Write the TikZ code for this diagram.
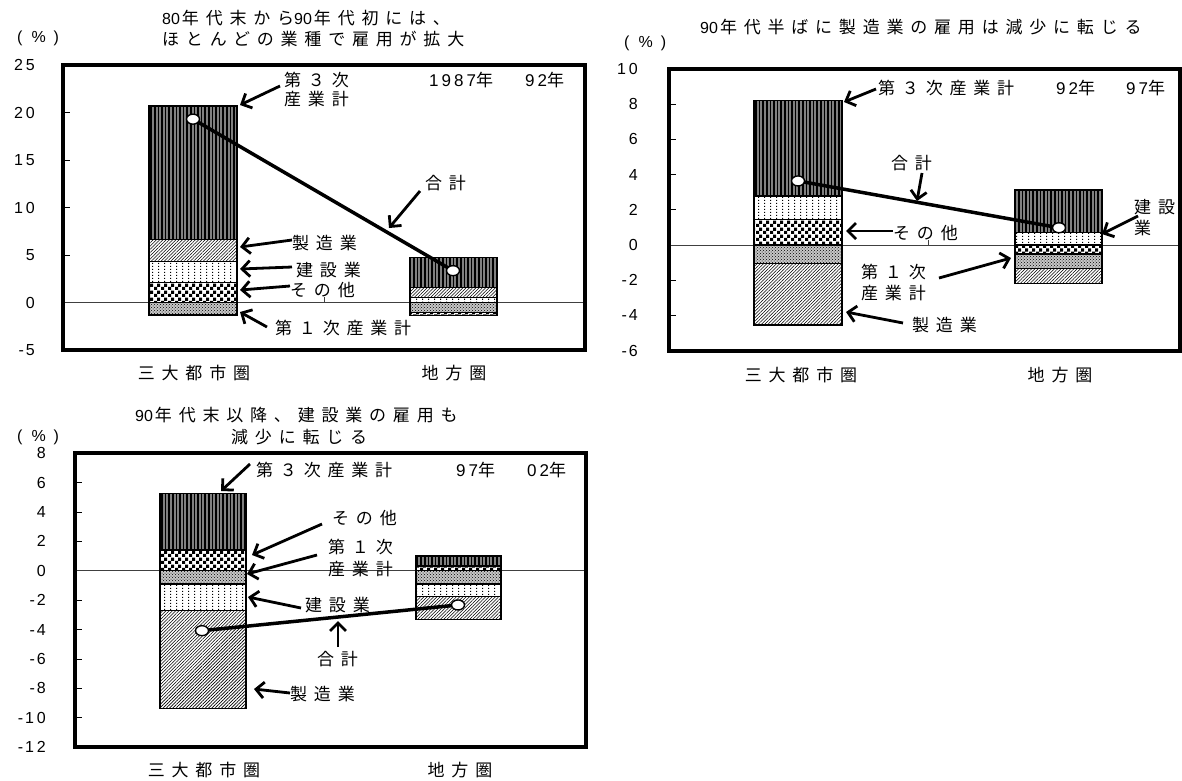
\documentclass[tikz,border=0pt]{standalone}
\usepackage{fontspec}
\usetikzlibrary{arrows.meta,patterns,patterns.meta,shapes.geometric}
\newfontfamily\jp{Noto Sans CJK JP}[LetterSpace=40]
\newfontfamily\ax{Liberation Sans}[LetterSpace=18]
\newfontfamily\tdg{Liberation Sans}
\newcommand\td[1]{{\tdg\fontsize{16pt}{16pt}\selectfont #1}\hspace{2pt}}

\pgfdeclarepatternformonly{vdotlines}{\pgfqpoint{0pt}{0pt}}{\pgfqpoint{6pt}{3pt}}{\pgfqpoint{6pt}{3pt}}{%
  \pgfpathrectangle{\pgfqpoint{2.5pt}{0pt}}{\pgfqpoint{1pt}{1.5pt}}\pgfusepath{fill}}
\pgfdeclarepatternformonly{chk}{\pgfqpoint{0pt}{0pt}}{\pgfqpoint{7pt}{7pt}}{\pgfqpoint{7pt}{7pt}}{%
  \pgfpathrectangle{\pgfqpoint{0pt}{0pt}}{\pgfqpoint{3.5pt}{3.5pt}}%
  \pgfpathrectangle{\pgfqpoint{3.5pt}{3.5pt}}{\pgfqpoint{3.5pt}{3.5pt}}\pgfusepath{fill}}

\tikzset{
  lab/.style={font=\jp\fontsize{17pt}{18pt}\selectfont, inner sep=0pt, anchor=west},
  ylab/.style={font=\ax\fontsize{16pt}{17pt}\selectfont, inner sep=0pt, anchor=east},
  pct/.style={font=\ax\fontsize{16pt}{17pt}\selectfont, inner sep=0pt, anchor=west},
  frame/.style={line width=4pt},
  zline/.style={line width=0.8pt, black!75},
  ytick/.style={line width=0.8pt},
  ptr/.style={line width=2.8pt, -{Straight Barb[length=8pt,width=16pt]}},
  total/.style={line width=3.5pt},
  tdot/.style={ellipse, draw, fill=white, line width=1.4pt, minimum width=13pt, minimum height=10pt, inner sep=0pt},
  s3/.style={fill=black!50, postaction={pattern={Lines[angle=90,distance=3.6pt,line width=1.7pt]}, pattern color=black}},
  smfg/.style={fill=white, postaction={pattern={Lines[angle=45,distance=2.3pt,line width=0.6pt]}, pattern color=black}},
  scon/.style={fill=white, postaction={pattern=vdotlines, pattern color=black}},
  soth/.style={fill=white, postaction={pattern=chk, pattern color=black}},
  sprim/.style={fill=black!22, postaction={pattern=crosshatch dots, pattern color=black}},
}
\newcommand\bseg[5]{\path[#5] (#1,#3) rectangle (#2,#4); \draw[line width=1.3pt] (#1,#3) rectangle (#2,#4);}

\begin{document}
\begin{tikzpicture}[x=1pt,y=-1pt]
\useasboundingbox (0,0) rectangle (1182,780);
\fill[white] (0,0) rectangle (1182,780);

% ================= Chart 1 =================
\begin{scope}[shift={(0,302.5)}, y=9.5pt]
  \draw[zline] (63,0) -- (585,0);
  \draw[zline] (324,0) -- (324,0.55);
  \foreach \v in {20,15,10,5} \draw[ytick] (63,\v) -- (70,\v);
  % bar 1
  \bseg{149}{237}{-1.3}{0}{sprim}
  \bseg{149}{237}{0}{2.08}{soth}
  \bseg{149}{237}{2.08}{4.35}{scon}
  \bseg{149}{237}{4.35}{6.65}{smfg}
  \bseg{149}{237}{6.65}{20.7}{s3}
  % bar 2
  \bseg{410}{497}{-1.35}{-1.03}{soth}
  \bseg{410}{497}{-1.03}{0}{sprim}
  \bseg{410}{497}{0}{0.5}{scon}
  \bseg{410}{497}{0.5}{1.55}{smfg}
  \bseg{410}{497}{1.55}{4.75}{s3}
  \coordinate (p1a) at (193,19.3);
  \coordinate (p1b) at (453,3.35);
  \draw[total] (p1a) -- (p1b);
  \node[tdot] (c1a) at (p1a) {};
  \node[tdot] (c1b) at (p1b) {};
  \draw[frame] (63,25) rectangle (585,-5);
  \foreach \v/\t in {25/25,20/20,15/15,10/10,5/5,0/0,-5/{-\hspace{2pt}5}} \node[ylab] (ya\v) at (35,\v) {\t};
\end{scope}

\node[lab] (t1a) at (162,18) {\td{80}年代末から\td{90}年代初には、};
\node[lab] (t1b) at (162,39) {ほとんどの業種で雇用が拡大};
\node[pct] (pc1) at (17,38) {(\hspace{9pt}\%\hspace{8pt})};
\node[lab] (l1t3a) at (284,80) {第３次};
\node[lab] (l1t3b) at (284,99) {産業計};
\node[lab] (l1yr) at (429,80) {{\ax 1987}年};
\node[lab] (l1yr2) at (525,80) {{\ax 92}年};
\node[lab] (l1tot) at (425,183) {合計};
\node[lab] (l1mfg) at (292,243) {製造業};
\node[lab] (l1con) at (296,270) {建設業};
\node[lab] (l1oth) at (290,290) {その他};
\node[lab] (l1pri) at (275,328) {第１次産業計};
\node[lab,anchor=center] (l1x1) at (194,373) {三大都市圏};
\node[lab,anchor=center] (l1x2) at (454,373) {地方圏};

\coordinate (a1s1) at (280,86);  \coordinate (a1e1) at (240,105);
\coordinate (a1s2) at (420,191); \coordinate (a1e2) at (389,228);
\coordinate (a1s3) at (292,240); \coordinate (a1e3) at (240,247);
\coordinate (a1s4) at (292,267); \coordinate (a1e4) at (240,269);
\coordinate (a1s5) at (290,286); \coordinate (a1e5) at (240,290);
\coordinate (a1s6) at (267,327); \coordinate (a1e6) at (240,312);
\foreach \i in {1,...,6} \draw[ptr] (a1s\i) -- (a1e\i);

% ================= Chart 2 =================
\begin{scope}[shift={(0,245)}, y=17.6pt]
  \draw[zline] (669,0) -- (1180,0);
  \draw[zline] (928,0) -- (928,0.3);
  \foreach \v in {8,6,4,2,-2,-4} \draw[ytick] (669,\v) -- (676,\v);
  % bar 1
  \bseg{754}{842}{-4.55}{-1.04}{smfg}
  \bseg{754}{842}{-1.04}{0}{sprim}
  \bseg{754}{842}{0}{1.46}{soth}
  \bseg{754}{842}{1.46}{2.78}{scon}
  \bseg{754}{842}{2.78}{8.2}{s3}
  % bar 2
  \bseg{1015}{1102}{-2.18}{-1.35}{smfg}
  \bseg{1015}{1102}{-1.35}{-0.51}{sprim}
  \bseg{1015}{1102}{-0.51}{0}{soth}
  \bseg{1015}{1102}{0}{0.72}{scon}
  \bseg{1015}{1102}{0.72}{3.12}{s3}
  \coordinate (p2a) at (798,3.64);
  \coordinate (p2b) at (1059,0.98);
  \draw[total] (p2a) -- (p2b);
  \node[tdot] (c2a) at (p2a) {};
  \node[tdot] (c2b) at (p2b) {};
  \draw[frame] (669,10) rectangle (1180,-6);
  \foreach \v/\t in {10/10,8/8,6/6,4/4,2/2,0/0,-2/{-\hspace{2pt}2},-4/{-\hspace{2pt}4},-6/{-\hspace{2pt}6}} \node[ylab] (yb\v) at (638,\v) {\t};
\end{scope}

\node[lab] (t2) at (700,27) {\td{90}年代半ばに製造業の雇用は減少に転じる};
\node[pct] (pc2) at (624,43) {(\hspace{9pt}\%\hspace{8pt})};
\node[lab] (l2t3) at (878,88) {第３次産業計};
\node[lab] (l2yr) at (1056,88) {{\ax 92}年};
\node[lab] (l2yr2) at (1126,88) {{\ax 97}年};
\node[lab] (l2tot) at (891,163) {合計};
\node[lab] (l2cona) at (1134,207) {建設};
\node[lab] (l2conb) at (1134,228) {業};
\node[lab] (l2oth) at (893,233) {その他};
\node[lab] (l2pria) at (861,272) {第１次};
\node[lab] (l2prib) at (861,293) {産業計};
\node[lab] (l2mfg) at (912,325) {製造業};
\node[lab,anchor=center] (l2x1) at (801,375) {三大都市圏};
\node[lab,anchor=center] (l2x2) at (1060,375) {地方圏};

\coordinate (a2s1) at (876,89);   \coordinate (a2e1) at (844,102);
\coordinate (a2s2) at (922,173);  \coordinate (a2e2) at (917,201);
\coordinate (a2s3) at (1138,216); \coordinate (a2e3) at (1102,234);
\coordinate (a2s4) at (893,231);  \coordinate (a2e4) at (846,231);
\coordinate (a2s5) at (939,278);  \coordinate (a2e5) at (1011,258);
\coordinate (a2s6) at (903,323);  \coordinate (a2e6) at (846,312);
\foreach \i in {1,...,6} \draw[ptr] (a2s\i) -- (a2e\i);

% ================= Chart 3 =================
\begin{scope}[shift={(0,570.7)}, y=14.7pt]
  \draw[zline] (75,0) -- (586,0);
  \foreach \v in {6,4,2,-2,-4,-6,-8,-10} \draw[ytick] (75,\v) -- (82,\v);
  % bar 1
  \bseg{160}{246}{-9.36}{-2.72}{smfg}
  \bseg{160}{246}{-2.72}{-0.9}{scon}
  \bseg{160}{246}{-0.9}{0}{sprim}
  \bseg{160}{246}{0}{1.41}{soth}
  \bseg{160}{246}{1.41}{5.27}{s3}
  % bar 2
  \bseg{416}{501}{-3.3}{-1.75}{smfg}
  \bseg{416}{501}{-1.75}{-0.9}{scon}
  \bseg{416}{501}{-0.9}{0}{sprim}
  \bseg{416}{501}{0}{0.33}{soth}
  \bseg{416}{501}{0.33}{1.0}{s3}
  \coordinate (p3a) at (202,-4.08);
  \coordinate (p3b) at (458,-2.33);
  \draw[total] (p3a) -- (p3b);
  \node[tdot] (c3a) at (p3a) {};
  \node[tdot] (c3b) at (p3b) {};
  \draw[frame] (75,8) rectangle (586,-12);
  \foreach \v/\t in {8/8,6/6,4/4,2/2,0/0,-2/{-\hspace{2pt}2},-4/{-\hspace{2pt}4},-6/{-\hspace{2pt}6},-8/{-\hspace{2pt}8},-10/{-\hspace{2pt}10},-12/{-\hspace{2pt}12}} \node[ylab] (yc\v) at (46,\v) {\t};
\end{scope}

\node[lab] (t3a) at (135,415) {\td{90}年代末以降、建設業の雇用も};
\node[lab] (t3b) at (231,437) {減少に転じる};
\node[pct] (pc3) at (17,437) {(\hspace{9pt}\%\hspace{8pt})};
\node[lab] (l3t3) at (256,470) {第３次産業計};
\node[lab] (l3yr) at (456,470) {{\ax 97}年};
\node[lab] (l3yr2) at (527,470) {{\ax 02}年};
\node[lab] (l3oth) at (332,518) {その他};
\node[lab] (l3pria) at (328,547) {第１次};
\node[lab] (l3prib) at (328,569) {産業計};
\node[lab] (l3con) at (305,605) {建設業};
\node[lab] (l3tot) at (317,659) {合計};
\node[lab] (l3mfg) at (290,694) {製造業};
\node[lab,anchor=center] (l3x1) at (204,770) {三大都市圏};
\node[lab,anchor=center] (l3x2) at (460,770) {地方圏};

\coordinate (a3s1) at (250,464); \coordinate (a3e1) at (221,491);
\coordinate (a3s2) at (322,524); \coordinate (a3e2) at (252,555);
\coordinate (a3s3) at (317,555); \coordinate (a3e3) at (247,574);
\coordinate (a3s4) at (301,608); \coordinate (a3e4) at (248,597);
\coordinate (a3s5) at (338,647); \coordinate (a3e5) at (338,621);
\coordinate (a3s6) at (290,693); \coordinate (a3e6) at (254,689);
\foreach \i in {1,...,6} \draw[ptr] (a3s\i) -- (a3e\i);
\end{tikzpicture}
\end{document}
